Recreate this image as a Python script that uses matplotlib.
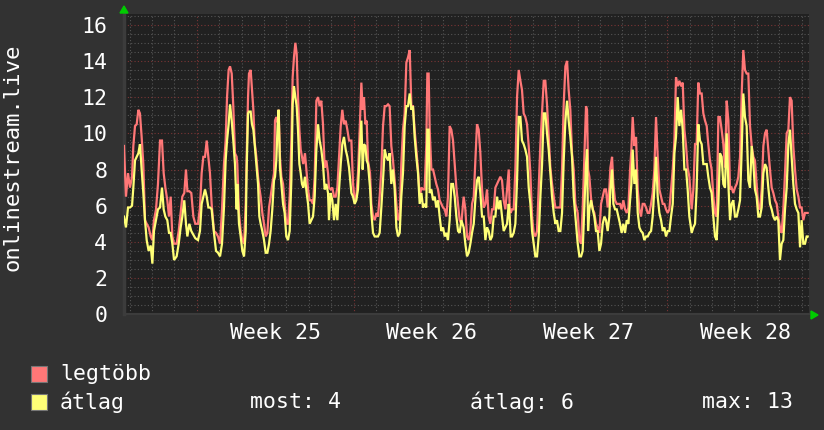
import numpy as np
import matplotlib
matplotlib.use("Agg")
import matplotlib.pyplot as plt
from matplotlib.patches import Rectangle, Polygon

# hours relative to the start of week 25
hours = [
    -77.9, -75.8, -73.6, -71.5, -69.3, -67.9, -66.1, -64.3, -62.5, -60.8,
    -59.0, -57.2, -55.4, -53.6, -51.5, -49.3, -47.5, -45.8, -43.6, -41.5,
    -39.3, -37.2, -35.4, -33.6, -31.5, -29.7, -27.9, -26.1, -24.3, -21.5,
    -19.3, -17.2, -15.4, -13.3, -11.5, -10.0, -7.9, -5.8, -3.6, -1.5,
    1.4, 3.5, 5.3, 7.1, 8.9, 10.7, 12.5, 14.2, 16.0, 18.5,
    20.7, 22.8, 25.0, 27.1, 29.2, 31.0, 32.5, 34.2, 35.7, 37.5,
    39.2, 41.0, 42.8,
    43.5, 45.3, 47.1, 48.9, 50.7, 52.5, 53.5, 55.0, 56.0, 57.8,
    59.2, 60.7, 62.1, 63.9, 65.7, 67.1, 68.5, 70.3, 72.1, 73.9,
    75.7, 77.5, 79.2, 81.0, 82.8, 83.9, 85.3, 86.7, 87.8, 89.2,
    90.7, 92.5, 94.2, 96.0, 97.8, 99.6, 101.4, 102.8, 104.2, 105.7,
    107.1, 108.5, 110.0, 111.4, 112.8, 114.2, 116.0, 117.8, 119.3, 121.0,
    122.8, 124.6, 126.4, 128.2, 130.0, 131.7, 133.5, 135.3, 137.1, 138.9,
    140.7, 141.7, 143.5, 145.3, 147.1, 148.9, 150.7, 152.5, 154.3, 156.0,
    157.8, 159.6, 161.4, 163.2,
    165.7, 167.5, 169.2, 171.0, 172.8, 174.6, 176.4, 177.8, 179.2, 180.7,
    182.1, 183.5, 185.7, 187.1, 188.9, 190.7, 192.5, 194.2, 196.0, 197.8,
    199.6, 201.4, 203.2, 205.0, 206.7, 208.5, 210.3, 212.1, 213.9, 215.7,
    217.5, 219.2, 221.0, 222.8, 224.6, 226.4, 228.2, 230.0, 231.7, 233.5,
    235.3, 237.1, 238.9, 240.7, 242.5, 244.2, 246.0, 247.1, 248.5, 249.6,
    251.4, 253.2, 255.0, 256.7, 258.5, 260.3, 262.1, 263.9, 265.7, 267.5,
    269.2, 271.0, 272.8, 274.6, 276.4, 278.2, 280.0, 281.7, 283.5,
    286.0, 287.8, 289.6, 291.4, 293.2, 295.0, 296.8, 298.5, 300.3, 302.1,
    303.9, 305.7, 307.5, 309.3, 311.0, 312.8, 314.6, 316.4, 318.2, 320.0,
    321.8, 323.5, 325.3, 327.1, 328.9, 330.7, 332.5, 334.3, 335.3, 336.4,
    337.8, 339.6, 341.4, 343.2, 345.0, 346.8, 348.5, 350.3, 352.1, 353.9,
    355.7, 357.5, 359.3, 361.0, 362.8, 364.6, 366.4, 368.2, 370.0, 371.8,
    373.5, 375.3, 377.1, 378.9, 380.7, 382.5, 384.3, 386.0, 387.8, 389.6,
    391.4, 393.2, 395.0, 396.8, 398.5, 400.3, 402.1, 403.9, 405.7,
    408.2, 410.0, 411.8, 413.5, 415.3, 417.1, 418.2, 419.3, 420.7, 422.5,
    424.3, 426.0, 427.8, 429.6, 431.4, 433.2, 435.0, 436.8, 438.5, 440.3,
    442.1, 443.2, 445.0, 446.4, 448.2, 450.0, 451.8, 453.5, 455.3, 457.1,
    458.9, 460.7, 462.5, 464.3, 465.7, 467.1, 468.9, 470.7, 472.5, 474.3,
    476.0, 477.8, 479.6, 481.4, 483.2, 485.0, 486.8, 488.5, 490.3, 492.1,
    493.9, 495.7, 497.5, 499.3, 501.0, 502.8, 504.6, 506.4, 508.2, 510.0,
    511.8, 513.5, 515.3, 517.1, 518.9, 520.7, 522.5, 524.3, 526.0, 527.8,
    530.3, 532.1, 533.9, 535.6, 537.4, 539.2, 541.0, 542.8, 544.6, 546.4,
    548.1, 549.9, 551.7, 553.5, 555.3, 557.1, 558.9, 560.6, 562.4, 564.2,
    566.0, 567.8, 569.6, 571.4, 573.1, 574.9, 576.7, 578.5, 580.3, 582.1,
    583.9, 585.6, 587.4, 589.2, 591.0, 592.8, 594.6, 596.4, 598.1, 599.9,
    601.7, 603.5, 605.3, 607.1, 608.9, 610.6, 612.4, 614.2, 616.0, 617.8,
    619.6, 621.4, 623.1, 624.9, 626.7, 628.5, 630.3, 632.1, 633.9, 635.6,
    637.4, 639.2, 641.0, 642.8, 644.6, 646.4, 648.1, 649.9, 651.7, 653.5,
    654.6,
]

# "legtöbb" (max) series
legtobb = [
    9.3, 6.5, 7.8, 7.0, 7.6, 9.3, 10.4, 10.5, 11.3, 11.1,
    9.8, 8.3, 5.2, 5.0, 4.8, 4.3, 4.1, 5.2, 5.8, 7.2,
    9.6, 9.6, 7.8, 7.0, 6.3, 5.4, 6.5, 4.3, 3.9, 3.9,
    4.6, 5.6, 6.5, 6.7, 8.0, 6.8, 6.8, 6.7, 5.4, 5.0,
    5.0, 5.9, 7.8, 8.7, 8.7, 9.6, 8.7, 7.8, 6.1, 4.6,
    4.5, 4.3, 3.9, 5.8, 8.3, 9.6, 12.0, 13.5, 13.7, 13.3,
    11.5, 8.9, 8.7,
    8.3, 5.6, 4.6, 4.1, 3.9, 6.1, 8.7, 12.0, 13.3, 13.5,
    12.4, 11.3, 9.5, 8.7, 7.6, 7.0, 6.5, 5.6, 5.0, 4.3,
    4.5, 5.9, 6.5, 7.2, 7.8, 10.7, 10.9, 10.6, 11.3, 8.7,
    7.6, 7.2, 6.1, 5.0, 5.0, 6.5, 9.6, 13.1, 14.2, 15.0,
    14.4, 12.0, 10.2, 9.1, 8.7, 8.3, 8.9, 7.8, 6.9, 6.3,
    6.3, 6.1, 7.6, 11.8, 12.0, 11.5, 11.8, 10.5, 8.1, 8.5,
    7.8, 7.0, 6.9, 7.0, 6.5, 6.5, 7.0, 8.7, 10.4, 11.3,
    10.5, 10.7, 10.2, 9.6,
    9.6, 7.2, 6.3, 6.5, 7.8, 10.2, 12.8, 11.3, 12.0, 10.5,
    10.7, 8.5, 7.8, 6.1, 5.4, 5.2, 5.6, 5.4, 6.5, 8.0,
    10.4, 11.5, 11.5, 11.6, 11.5, 9.3, 8.5, 7.4, 6.1, 5.2,
    5.4, 8.3, 10.2, 11.1, 13.9, 14.2, 14.6, 11.5, 11.5, 10.2,
    9.1, 8.0, 6.5, 7.0, 6.9, 6.9, 9.4, 13.3, 13.3, 10.2,
    8.0, 8.0, 7.6, 7.2, 6.9, 6.3, 6.1, 5.9, 5.8, 5.4,
    6.5, 10.4, 10.2, 9.6, 8.3, 7.0, 6.1, 5.2, 5.0,
    6.5, 5.8, 4.3, 4.1, 4.6, 6.1, 6.5, 8.5, 10.5, 10.2,
    8.9, 6.9, 5.9, 6.1, 6.9, 5.4, 5.0, 5.8, 5.8, 7.0,
    7.2, 7.4, 7.6, 7.4, 6.3, 5.8, 6.9, 8.0, 5.9, 5.6,
    5.8, 5.8, 8.0, 12.0, 13.5, 12.9, 12.4, 11.1, 10.9, 10.5,
    9.3, 7.8, 5.4, 4.5, 4.3, 4.6, 7.0, 9.4, 11.1, 12.9,
    12.9, 11.6, 9.8, 8.1, 7.2, 6.5, 5.9, 5.9, 5.9, 5.9,
    8.0, 11.6, 13.7, 14.0, 12.4, 11.3, 8.9, 8.0, 6.1,
    5.6, 4.1, 3.9, 5.8, 8.7, 11.5, 11.3, 8.0, 7.6, 6.4,
    5.8, 5.6, 5.0, 4.8, 4.5, 6.1, 6.5, 6.9, 6.9, 5.9,
    7.0, 8.1, 8.7, 7.2, 6.3, 6.1, 6.1, 6.1, 5.8, 6.3,
    5.8, 5.6, 5.9, 8.0, 9.1, 10.9, 9.3, 9.8, 6.9, 5.8,
    5.4, 6.1, 6.1, 5.9, 5.6, 5.6, 6.1, 6.7, 8.0, 10.9,
    8.7, 6.9, 6.5, 6.1, 6.1, 5.8, 5.6, 5.8, 6.9, 8.0,
    9.6, 13.1, 12.6, 12.9, 12.6, 12.8, 10.2, 9.3, 8.1, 7.6,
    5.8, 6.9, 9.4, 9.4, 12.8, 12.2, 12.2, 11.1, 10.7, 10.4,
    9.4, 8.5, 8.0, 6.5, 5.6, 5.4, 10.9, 10.9, 10.2, 9.4,
    8.1, 11.8, 10.7, 6.9, 7.0, 6.7, 7.0, 7.2, 7.6, 8.7,
    12.2, 14.6, 13.5, 13.3, 13.3, 10.4, 9.3, 8.7, 8.5, 7.2,
    5.9, 5.8, 6.9, 9.3, 10.0, 10.2, 9.1, 8.0, 7.0, 6.7,
    6.3, 6.1, 5.4, 4.8, 4.5, 5.8, 7.8, 10.0, 10.2, 12.0,
    11.8, 9.3, 8.0, 6.9, 6.5, 5.9, 5.9, 5.2, 5.6, 5.6,
    5.6,
]

# "átlag" (average) series
atlag = [
    5.4, 4.8, 5.9, 5.9, 6.0, 7.0, 8.5, 8.7, 8.9, 9.4,
    8.0, 6.7, 5.2, 4.1, 3.5, 3.8, 2.8, 4.6, 5.2, 5.8,
    5.9, 7.0, 5.8, 5.4, 5.2, 4.5, 4.5, 3.9, 3.0, 3.2,
    3.9, 4.8, 5.4, 6.3, 5.0, 4.3, 5.0, 4.6, 4.4, 4.2,
    4.1, 4.6, 6.1, 6.5, 6.9, 6.5, 5.9, 5.9, 5.8, 4.5,
    3.5, 3.4, 3.2, 3.9, 5.9, 8.5, 9.6, 10.5, 11.6, 10.7,
    9.6, 8.3, 5.8,
    7.2, 5.0, 4.3, 3.5, 3.2, 4.6, 8.0, 11.1, 11.2, 11.2,
    10.5, 10.2, 9.4, 8.3, 7.2, 5.4, 5.0, 4.6, 4.1, 3.4,
    3.4, 3.9, 4.6, 5.8, 7.4, 7.6, 8.5, 10.5, 11.3, 8.1,
    7.2, 6.1, 5.6, 4.3, 4.1, 4.6, 7.4, 11.6, 12.6, 12.0,
    11.5, 10.2, 8.3, 7.8, 7.2, 7.0, 7.6, 6.7, 6.1, 5.0,
    5.2, 5.4, 6.5, 9.1, 10.5, 9.6, 9.1, 8.3, 6.9, 7.2,
    6.7, 5.2, 6.7, 6.3, 5.2, 6.1, 5.2, 6.9, 8.3, 9.4,
    9.8, 9.1, 8.7, 8.1,
    6.7, 6.5, 6.1, 6.3, 6.9, 8.9, 10.7, 8.0, 9.4, 9.3,
    8.5, 8.3, 7.0, 5.6, 4.5, 4.3, 4.3, 4.3, 4.5, 5.9,
    7.4, 9.1, 8.7, 8.5, 8.9, 7.2, 8.0, 6.9, 4.8, 4.3,
    4.5, 6.5, 7.8, 10.4, 11.5, 11.5, 12.2, 11.3, 11.5, 9.8,
    8.7, 7.8, 6.1, 6.7, 5.9, 6.1, 5.9, 10.2, 10.2, 6.7,
    6.9, 6.3, 6.5, 5.9, 6.3, 5.4, 4.6, 4.8, 4.3, 4.5,
    4.1, 5.2, 7.2, 7.2, 6.5, 5.4, 4.6, 4.5, 5.2,
    4.8, 3.9, 3.2, 3.4, 3.9, 4.5, 5.0, 6.3, 7.4, 7.6,
    6.7, 5.4, 5.4, 4.1, 4.8, 4.6, 4.1, 4.3, 5.4, 5.4,
    6.5, 5.8, 6.3, 5.4, 4.6, 4.8, 5.0, 6.1, 5.4, 4.3,
    4.3, 4.5, 5.0, 7.4, 10.9, 10.9, 9.6, 9.4, 9.1, 8.7,
    7.0, 6.1, 4.6, 3.9, 3.2, 3.2, 4.3, 6.5, 8.3, 11.1,
    11.1, 10.0, 9.1, 7.8, 6.5, 5.6, 5.0, 5.2, 4.6, 4.6,
    5.6, 8.5, 10.7, 11.8, 10.7, 9.8, 8.7, 6.5, 5.4,
    3.9, 3.2, 3.2, 3.5, 5.9, 8.3, 9.1, 4.6, 5.8, 6.3,
    5.8, 5.4, 4.6, 4.6, 3.5, 3.9, 5.0, 5.4, 5.2, 4.6,
    5.4, 6.9, 8.0, 6.1, 5.8, 5.8, 5.4, 5.0, 4.5, 5.0,
    4.5, 5.2, 5.0, 6.3, 7.2, 9.1, 7.2, 8.0, 5.6, 4.8,
    4.6, 4.5, 4.1, 4.3, 4.3, 4.5, 4.6, 5.4, 6.9, 8.7,
    6.5, 5.6, 5.2, 4.6, 4.8, 4.3, 4.6, 4.6, 5.4, 6.1,
    8.9, 9.8, 12.0, 10.4, 11.3, 10.2, 8.0, 8.0, 6.9, 5.4,
    4.5, 4.8, 5.0, 6.9, 10.5, 9.6, 9.4, 8.3, 8.3, 8.3,
    7.6, 7.0, 6.7, 5.4, 4.3, 4.1, 6.1, 8.9, 8.7, 7.2,
    7.0, 10.0, 7.2, 5.2, 6.1, 6.3, 5.4, 5.4, 5.8, 6.3,
    9.1, 12.2, 10.9, 10.4, 7.4, 7.0, 9.3, 8.3, 6.9, 6.5,
    5.4, 5.4, 5.9, 7.8, 8.3, 8.1, 7.0, 6.1, 5.8, 5.4,
    5.2, 5.4, 5.2, 3.0, 3.9, 4.1, 5.8, 7.0, 9.4, 10.2,
    8.7, 7.2, 6.1, 5.8, 5.6, 3.7, 5.2, 3.9, 3.9, 4.3,
    4.3,
]

week_centers = [84, 252, 420, 588]
week_labels = ["Week 25", "Week 26", "Week 27", "Week 28"]
y_ticks = [0, 2, 4, 6, 8, 10, 12, 14, 16]
series_names = ["legtöbb", "átlag"]
stat_labels = ["most: 4", "átlag: 6", "max: 13"]

W, H = 824, 430
BG = "#323232"
CANVAS = "#212121"
RED = "#ff7777"
YEL = "#ffff77"
MONO = "DejaVu Sans Mono"

fig = plt.figure(figsize=(W / 100, H / 100), dpi=100, facecolor=BG)

def px(x, y):
    return x / W, 1 - y / H

left, right = 124, 809
top, bottom = 13.5, 314.3
ax = fig.add_axes([left / W, 1 - bottom / H, (right - left) / W, (bottom - top) / H])
ax.set_facecolor(CANVAS)

x0, x1 = -77.9, 656.0
ax.set_xlim(x0, x1)
ax.set_ylim(0, (bottom - top) / 18.1)

# grid: minor every day / 0.5, major every week / 2
for d in np.arange(-72, x1, 24):
    major = (d % 168) == 0
    ax.axvline(d, color="#7a3535" if major else "#555555", lw=0.8,
               ls=(0, (1, 2)), zorder=1)
for v in np.arange(0.5, 16.6, 0.5):
    major = (v % 2) == 0
    ax.axhline(v, color="#7a3535" if major else "#555555", lw=0.8,
               ls=(0, (1, 2)), zorder=1)

ax.plot(hours, legtobb, color=RED, lw=1.6, zorder=3, solid_joinstyle="miter")
ax.plot(hours, atlag, color=YEL, lw=1.6, zorder=4, solid_joinstyle="miter")

for s in ["top", "right"]:
    ax.spines[s].set_visible(False)
ax.spines["left"].set_color("#3c3c3c")
ax.spines["left"].set_linewidth(2.5)
ax.spines["bottom"].set_color("#3c3c3c")
ax.spines["bottom"].set_linewidth(1.5)

ax.set_yticks(y_ticks)
ax.set_yticklabels([str(t) for t in y_ticks])
ax.set_xticks(week_centers)
ax.set_xticklabels(week_labels)
ax.tick_params(axis="both", length=0, colors="white", labelsize=15.5)
ax.tick_params(axis="y", pad=12)
ax.tick_params(axis="x", pad=6)
for lab in ax.get_xticklabels() + ax.get_yticklabels():
    lab.set_family(MONO)

fig.text(*px(13, 157), "onlinestream.live", rotation=90, ha="center",
         va="center", color="white", fontsize=16, family=MONO)

# green axis arrows
fig.patches.append(Polygon([px(124, 6), px(120, 13), px(128, 13)], closed=True,
                           transform=fig.transFigure, color="#00cc00"))
fig.patches.append(Polygon([px(818, 315), px(811, 311), px(811, 319)], closed=True,
                           transform=fig.transFigure, color="#00cc00"))

# legend
rows = [(374, RED, series_names[0]), (402, YEL, series_names[1])]
for yc, col, name in rows:
    bx, by = px(31, yc + 8)
    fig.patches.append(Rectangle((bx, by), 16 / W, 16 / H, transform=fig.transFigure,
                                 facecolor=col, edgecolor="#777777", lw=0.8))
    fig.text(*px(60, yc), name, ha="left", va="center", color="white",
             fontsize=15.5, family=MONO)

for xs, txt in zip([250, 470, 702], stat_labels):
    fig.text(*px(xs, 402), txt, ha="left", va="center", color="white",
             fontsize=15.5, family=MONO)

fig.savefig("out.png", dpi=100, facecolor=BG)
